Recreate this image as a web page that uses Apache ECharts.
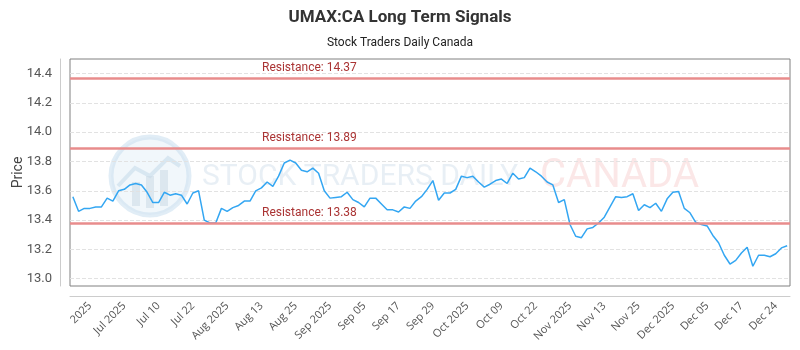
<!DOCTYPE html>
<html>
<head>
<meta charset="utf-8">
<script src="https://cdn.jsdelivr.net/npm/echarts@6/dist/echarts.min.js"></script>
<style>
  html, body { margin: 0; padding: 0; background: #fff; }
  #chart { width: 800px; height: 350px; }
</style>
</head>
<body>
<div id="chart"></div>
<script>
// Daily closing prices, oldest first
const prices = [
  13.56, 13.46, 13.48, 13.48, 13.49, 13.49, 13.55, 13.53, 13.60, 13.61,
  13.64, 13.65, 13.64, 13.59, 13.52, 13.52, 13.59, 13.57, 13.58, 13.57,
  13.51, 13.585, 13.60, 13.40, 13.38, 13.38, 13.48, 13.46, 13.485, 13.50,
  13.53, 13.53, 13.60, 13.62, 13.66, 13.63, 13.70, 13.79, 13.81, 13.79,
  13.74, 13.73, 13.755, 13.72, 13.60, 13.55, 13.555, 13.56, 13.59, 13.54,
  13.52, 13.49, 13.55, 13.55, 13.51, 13.47, 13.47, 13.455, 13.49, 13.48,
  13.53, 13.56, 13.61, 13.67, 13.535, 13.585, 13.585, 13.61, 13.70, 13.69,
  13.70, 13.66, 13.625, 13.645, 13.67, 13.68, 13.65, 13.72, 13.68, 13.69,
  13.755, 13.73, 13.70, 13.66, 13.64, 13.52, 13.54, 13.37, 13.29, 13.28,
  13.34, 13.35, 13.38, 13.42, 13.49, 13.56, 13.555, 13.56, 13.58, 13.465,
  13.505, 13.485, 13.515, 13.46, 13.545, 13.59, 13.595, 13.48, 13.45, 13.385,
  13.37, 13.36, 13.295, 13.245, 13.16, 13.10, 13.125, 13.175, 13.215, 13.085,
  13.16, 13.16, 13.15, 13.17, 13.21, 13.225
];

// Date labels shown along the x axis (one every sixth trading day)
const dateLabels = [
  '2025', 'Jul 2025', 'Jul 10', 'Jul 22', 'Aug 2025', 'Aug 13', 'Aug 25',
  'Sep 2025', 'Sep 05', 'Sep 17', 'Sep 29', 'Oct 2025', 'Oct 09', 'Oct 22',
  'Nov 2025', 'Nov 13', 'Nov 25', 'Dec 2025', 'Dec 05', 'Dec 17', 'Dec 24'
];
const firstLabelIndex = 3;
const labelStep = 6;

// Resistance levels
const resistanceLevels = [14.37, 13.89, 13.38];

// Price axis ticks
const priceTicks = [13.0, 13.2, 13.4, 13.6, 13.8, 14.0, 14.2, 14.4];

const categories = prices.map((_, i) => {
  const k = i - firstLabelIndex;
  return (k >= 0 && k % labelStep === 0 && dateLabels[k / labelStep] !== undefined)
    ? dateLabels[k / labelStep] : '';
});

const chart = echarts.init(document.getElementById('chart'), null, { renderer: 'canvas' });

const font = 'Roboto, "DejaVu Sans", sans-serif';

chart.setOption({
  animation: false,
  backgroundColor: '#ffffff',
  title: {
    text: 'UMAX:CA Long Term Signals',
    subtext: 'Stock Traders Daily Canada',
    left: 'center',
    top: 4,
    itemGap: 11,
    textStyle: { fontFamily: font, fontSize: 17, fontWeight: 'bold', color: '#333' },
    subtextStyle: { fontFamily: font, fontSize: 12, color: '#222' }
  },
  graphic: [
    { type: 'circle', silent: true, z: 0, shape: { cx: 150, cy: 176, r: 39 },
      style: { fill: 'rgba(225,238,247,0.45)', stroke: 'rgba(200,222,238,0.55)', lineWidth: 5 } },
    { type: 'polyline', silent: true, z: 0, shape: { points: [[118, 186], [135, 168], [150, 176], [168, 158], [180, 166]] },
      style: { stroke: 'rgba(200,220,235,0.6)', lineWidth: 4, fill: null } },
    { type: 'rect', silent: true, z: 0, shape: { x: 132, y: 182, width: 8, height: 24 }, style: { fill: 'rgba(200,215,228,0.5)' } },
    { type: 'rect', silent: true, z: 0, shape: { x: 146, y: 176, width: 8, height: 32 }, style: { fill: 'rgba(200,215,228,0.5)' } },
    { type: 'rect', silent: true, z: 0, shape: { x: 160, y: 170, width: 8, height: 36 }, style: { fill: 'rgba(200,215,228,0.5)' } },
    { type: 'text', silent: true, z: 0, left: 202, top: 162,
      style: { text: 'STOCK TRADERS DAILY', fontSize: 30, fontFamily: 'Roboto',
               fill: 'rgba(205,220,232,0.45)' } },
    { type: 'text', silent: true, z: 0, left: 540, top: 157,
      style: { text: 'CANADA', fontSize: 40, fontFamily: 'Roboto',
               fill: 'rgba(240,160,160,0.25)' } }
  ],
  grid: { left: 70, right: 10, top: 59, bottom: 64, outerBoundsMode: 'none', show: true, borderColor: '#808080', borderWidth: 1, backgroundColor: 'transparent' },
  xAxis: {
    type: 'category',
    data: categories,
    boundaryGap: true,
    offset: 10,
    axisLine: { show: true, lineStyle: { color: '#ccc', width: 1 } },
    axisTick: { show: false },
    splitLine: { show: false },
    axisLabel: {
      interval: 0,
      rotate: 45,
      margin: 8,
      fontFamily: '"Open Sans", sans-serif',
      fontSize: 11,
      color: '#555'
    }
  },
  yAxis: {
    type: 'value',
    min: 12.95,
    max: 14.5,
    offset: 10,
    name: 'Price',
    nameLocation: 'middle',
    nameGap: 35,
    nameMoveOverlap: false,
    nameTextStyle: { fontFamily: font, fontSize: 14, color: '#444' },
    axisLine: { show: true, lineStyle: { color: '#ccc', width: 1 } },
    axisTick: { show: false, customValues: priceTicks },
    axisLabel: {
      customValues: priceTicks,
      formatter: v => v.toFixed(1),
      margin: 8,
      fontFamily: font,
      fontSize: 13,
      color: '#555'
    },
    splitLine: { show: true, lineStyle: { color: '#e2e2e2', type: 'dashed', width: 1 } }
  },
  series: [
    {
      type: 'line',
      data: prices,
      symbol: 'none',
      z: 3,
      lineStyle: { color: '#33a6f2', width: 1.5 },
      markLine: {
        silent: true,
        symbol: 'none',
        lineStyle: { color: '#e88c8c', type: 'solid', width: 2.5 },
        label: {
          show: true,
          position: 'insideStartTop',
          distance: [192, 4],
          formatter: p => 'Resistance: ' + p.value,
          fontFamily: font,
          fontSize: 12,
          color: '#a33'
        },
        data: resistanceLevels.map(v => ({ yAxis: v }))
      }
    }
  ]
});
</script>
</body>
</html>
